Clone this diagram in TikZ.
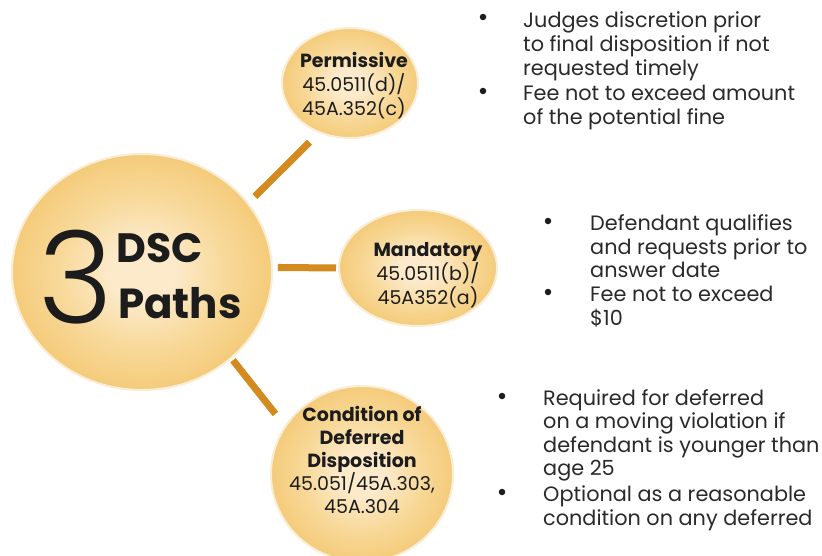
\documentclass[tikz,border=0pt]{standalone}
\usepackage{fontspec}
\setmainfont{Poppins}
\newfontfamily\thinfont{Poppins}[UprightFont=* Light]
\usetikzlibrary{shapes.geometric}

\definecolor{discin}{HTML}{FCEACB}
\definecolor{discmid}{HTML}{F8D99A}
\definecolor{discout}{HTML}{F4CB7A}
\definecolor{rim}{HTML}{FAEDD6}
\definecolor{link}{HTML}{D38A1F}
\definecolor{ink}{HTML}{1C1C1C}
\definecolor{bodyink}{HTML}{2A2A2A}

\pgfdeclareradialshading{discshade}{\pgfpoint{0bp}{0bp}}{%
  color(0bp)=(discin); color(6bp)=(discin); color(16bp)=(discmid); color(25bp)=(discout); color(50bp)=(discout)}

\tikzset{
  disc/.style={ellipse, shading=discshade, draw=rim, line width=2pt, inner sep=0pt},
  linkline/.style={draw=link, line width=7pt},
  head/.style={font=\fontsize{19}{23}\selectfont\bfseries, text=ink, inner sep=0pt, anchor=base},
  code/.style={font=\fontsize{19}{23}\selectfont, text=ink, inner sep=0pt, anchor=base},
  body/.style={font=\fontsize{20.8}{24}\selectfont, text=bodyink, inner sep=0pt, anchor=base west},
  dot/.style={circle, fill=ink, inner sep=0pt, minimum size=6.5pt},
}

\begin{document}
\begin{tikzpicture}[x=1pt,y=-1pt]
  \fill[white] (0,0) rectangle (822,555);
  \useasboundingbox (0,0) rectangle (822,555);
  \clip (0,0) rectangle (822,555);

  % discs
  \node[disc, minimum width=260, minimum height=236] (hub)  at (142,272) {};
  \node[disc, minimum width=136, minimum height=110] (perm) at (350,83) {};
  \node[disc, minimum width=158, minimum height=116] (mand) at (418,268) {};
  \node[disc, minimum width=182, minimum height=176] (cond) at (362,474) {};

  % connectors
  \draw[linkline, shorten <=9pt, shorten >=13pt] (hub.33) -- (perm.238);
  \draw[linkline, shorten <=5pt, shorten >=2pt] (hub.2) -- (mand.180);
  \draw[linkline, shorten <=2pt, shorten >=15pt] (hub.-44) -- (cond.148);

  % hub title
  \node[font=\fontsize{128}{128}\selectfont\thinfont, text=ink, inner sep=0pt, anchor=base west] (three) at (38,323) {3};
  \node[font=\fontsize{41}{41}\selectfont\bfseries, text=ink, inner sep=0pt, anchor=base west] (dsc) at (116,262) {DSC};
  \node[font=\fontsize{42}{42}\selectfont\bfseries, text=ink, inner sep=0pt, anchor=base west] (paths) at (118,318) {Paths};

  % disc labels
  \node[head] (permA) at (354,67)  {Permissive};
  \node[code] (permB) at (354,91)  {45.0511(d)/};
  \node[code] (permC) at (354,115) {45A.352(c)};

  \node[head] (mandA) at (428,256) {Mandatory};
  \node[code] (mandB) at (428,280) {45.0511(b)/};
  \node[code] (mandC) at (428,304) {45A352(a)};

  \node[head] (condA) at (362,421) {Condition of};
  \node[head] (condB) at (362,444) {Deferred};
  \node[head] (condC) at (362,467) {Disposition};
  \node[code] (condD) at (362,490) {45.051/45A.303,};
  \node[code] (condE) at (362,513) {45A.304};

  % notes for the permissive path
  \node[dot] (p1) at (483,17) {};
  \node[dot] (p2) at (483,91) {};
  \node[body] (pt1) at (523,27)  {Judges discretion prior};
  \node[body] (pt2) at (523,51)  {to final disposition if not};
  \node[body] (pt3) at (523,75)  {requested timely};
  \node[body] (pt4) at (523,100) {Fee not to exceed amount};
  \node[body] (pt5) at (523,124) {of the potential fine};

  % notes for the mandatory path
  \node[dot] (m1) at (548,221) {};
  \node[dot] (m2) at (548,292) {};
  \node[body] (mt1) at (590,230) {Defendant qualifies};
  \node[body] (mt2) at (590,254) {and requests prior to};
  \node[body] (mt3) at (590,277) {answer date};
  \node[body] (mt4) at (590,301) {Fee not to exceed};
  \node[body] (mt5) at (590,325) {\$10};

  % notes for the deferred path
  \node[dot] (c1) at (502,396) {};
  \node[dot] (c2) at (502,492) {};
  \node[body] (ct1) at (543,405) {Required for deferred};
  \node[body] (ct2) at (543,428) {on a moving violation if};
  \node[body] (ct3) at (543,452) {defendant is younger than};
  \node[body] (ct4) at (543,475) {age 25};
  \node[body] (ct5) at (543,501) {Optional as a reasonable};
  \node[body] (ct6) at (543,525) {condition on any deferred};
\end{tikzpicture}
\end{document}
